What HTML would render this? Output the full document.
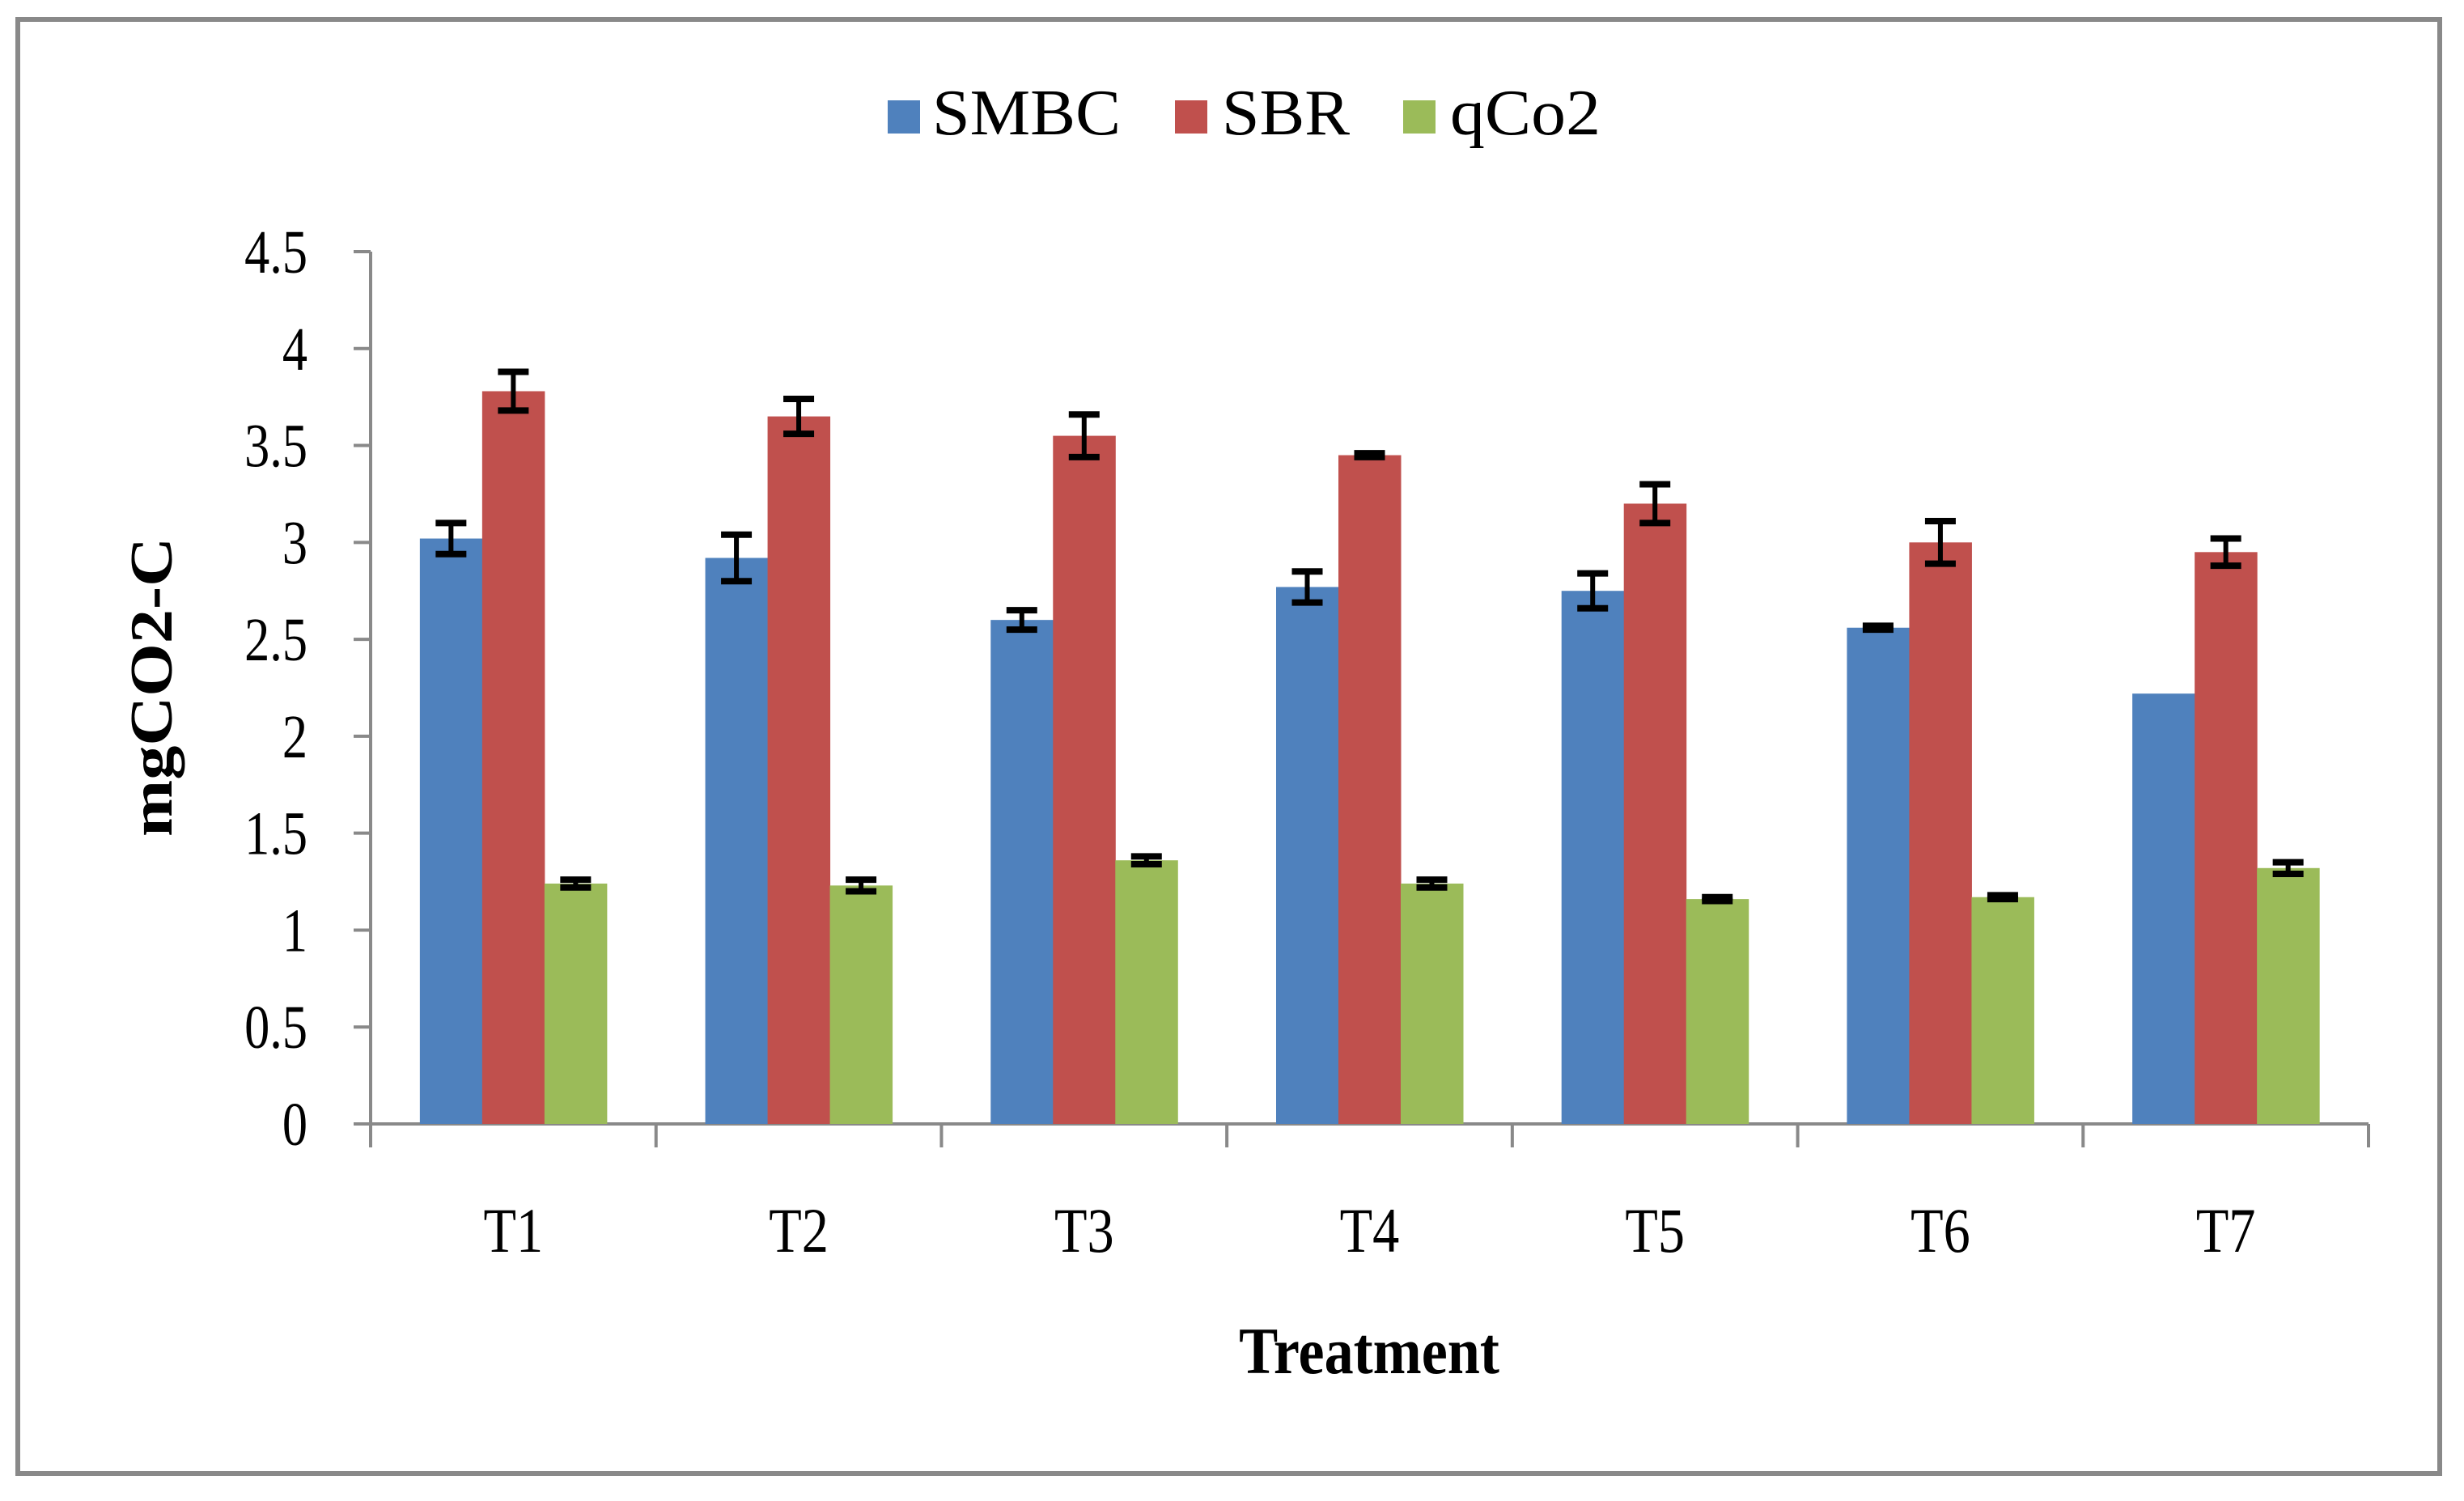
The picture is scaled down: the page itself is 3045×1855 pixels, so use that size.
<!DOCTYPE html>
<html><head><meta charset="utf-8"><style>
html,body{margin:0;padding:0;background:#fff;}
svg{display:block;}
text{font-family:"Liberation Serif",serif;fill:#000;}
</style></head><body>
<svg id="chart" width="3045" height="1855" viewBox="0 0 3045 1855">
<rect x="0" y="0" width="3045" height="1855" fill="#fff"/>
<rect x="22" y="24" width="2993" height="1797" fill="none" stroke="#898989" stroke-width="6"/>
<g id="legend">
<rect x="1097" y="124" width="40" height="41" fill="#4f81bd"/>
<text x="1152" y="166" font-size="80" textLength="233" lengthAdjust="spacingAndGlyphs">SMBC</text>
<rect x="1452" y="124" width="40" height="41" fill="#c0504d"/>
<text x="1510" y="166" font-size="80" textLength="158" lengthAdjust="spacingAndGlyphs">SBR</text>
<rect x="1734" y="124" width="40" height="41" fill="#9bbb59"/>
<text x="1792" y="166" font-size="80" textLength="186" lengthAdjust="spacingAndGlyphs">qCo2</text>
</g>
<g id="axes"></g>
<g id="bars"></g>
<g id="errs"></g>
<text transform="translate(1692,1697) scale(0.88,1)" font-size="82" font-weight="bold" text-anchor="middle">Treatment</text>
<text transform="translate(212,849) rotate(-90)" font-size="74" font-weight="bold" text-anchor="middle" textLength="370" lengthAdjust="spacingAndGlyphs">mgCO2-C</text>
</svg>
<script>
const categories = ["T1","T2","T3","T4","T5","T6","T7"];
const seriesNames = ["SMBC","SBR","qCo2"];
const smbc = [3.02,2.92,2.60,2.77,2.75,2.56,2.22];
const sbr = [3.78,3.65,3.55,3.45,3.20,3.00,2.95];
const qco2 = [1.24,1.23,1.36,1.24,1.16,1.17,1.32];
const smbcErr = [0.08,0.12,0.05,0.08,0.09,0.01,0];
const sbrErr = [0.10,0.09,0.11,0.01,0.10,0.11,0.07];
const qco2Err = [0.02,0.03,0.02,0.02,0.01,0.01,0.03];
const yTicks = [0,0.5,1,1.5,2,2.5,3,3.5,4,4.5];
const yTickLabels = ["0","0.5","1","1.5","2","2.5","3","3.5","4","4.5"];

const NS="http://www.w3.org/2000/svg";
const X0=458,X1=2927,Y0=1389,YTOP=311,YMAX=4.5;
const colors=["#4f81bd","#c0504d","#9bbb59"];
const groupW=(X1-X0)/categories.length, barW=77;
function y(v){return Y0-(v/YMAX)*(Y0-YTOP);}
function gx(i){return X0+groupW*(i+0.5);}
function mk(tag,attrs,parent){const e=document.createElementNS(NS,tag);for(const k in attrs)e.setAttribute(k,attrs[k]);parent.appendChild(e);return e;}
const axes=document.getElementById('axes'),bars=document.getElementById('bars'),errs=document.getElementById('errs');
let e;
e=mk('line',{x1:X0,y1:YTOP,x2:X0,y2:Y0,stroke:'#898989','stroke-width':4},axes);


e=mk('line',{x1:X0,y1:Y0,x2:X1,y2:Y0,stroke:'#898989','stroke-width':4},axes);


yTicks.forEach((t,i)=>{
  e=mk('line',{x1:437,y1:y(t),x2:X0,y2:y(t),stroke:'#898989','stroke-width':4},axes);
  
  
  e=mk('text',{transform:'translate(380,'+(y(t)+26)+') scale(0.82,1)','font-size':76,'text-anchor':'end'},axes);
  e.textContent=yTickLabels[i];
  
  
});
for(let i=0;i<=categories.length;i++){
  e=mk('line',{x1:X0+groupW*i,y1:Y0,x2:X0+groupW*i,y2:1418,stroke:'#898989','stroke-width':4},axes);
  
  
}
categories.forEach((c,i)=>{
  e=mk('text',{transform:'translate('+gx(i)+',1547) scale(0.85,1)','font-size':78,'text-anchor':'middle'},axes);
  e.textContent=c;
  
  
});
const series=[smbc,sbr,qco2], errors=[smbcErr,sbrErr,qco2Err];
series.forEach((vals,s)=>{
  vals.forEach((v,i)=>{
    const bx=gx(i)-1.5*barW+s*barW;
    e=mk('rect',{x:bx,y:y(v),width:barW+0.5,height:Y0-y(v),fill:colors[s]},bars);
    
    
    const er=errors[s][i];
    if(er>0){
      const cx=bx+barW/2;
      const g=mk('g',{stroke:'#000','stroke-width':8},errs);
      
      
      mk('line',{x1:cx,y1:y(v+er),x2:cx,y2:y(v-er),'stroke-width':6},g);
      mk('line',{x1:cx-19,y1:y(v+er),x2:cx+19,y2:y(v+er)},g);
      mk('line',{x1:cx-19,y1:y(v-er),x2:cx+19,y2:y(v-er)},g);
    }
  });
});
</script>
</body></html>
